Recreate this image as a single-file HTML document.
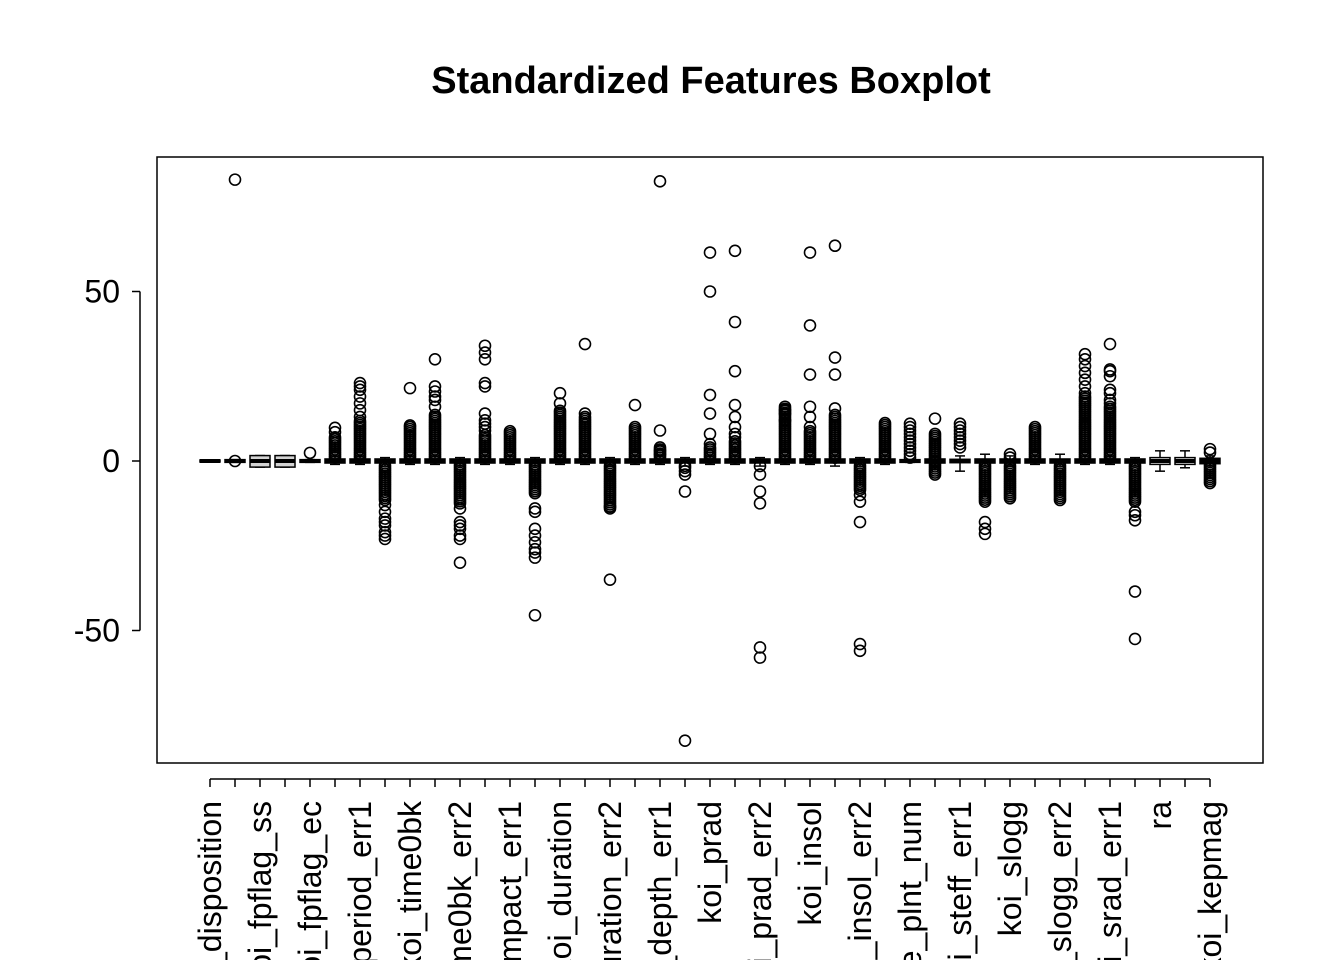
<!DOCTYPE html>
<html><head><meta charset="utf-8"><style>
html,body{margin:0;padding:0;background:#fff;overflow:hidden;width:1344px;height:960px;}
svg{display:block;font-family:"Liberation Sans",Arial,sans-serif;overflow:hidden;}
</style></head><body>
<svg id="chart" width="1344" height="960" viewBox="0 0 1344 960">
<rect width="1344" height="960" fill="#fff"/>
<text x="711" y="93" text-anchor="middle" font-size="38" font-weight="bold">Standardized Features Boxplot</text>
<rect x="157" y="157" width="1106" height="606" fill="none" stroke="#000" stroke-width="1.5"/>
<g id="yaxis"></g>
<g id="xaxis"></g>
<g id="boxes"></g>
</svg>
<script>
const categories=["koi_disposition","koi_fpflag_nt","koi_fpflag_ss","koi_fpflag_co","koi_fpflag_ec","koi_period","koi_period_err1","koi_period_err2","koi_time0bk","koi_time0bk_err1","koi_time0bk_err2","koi_impact","koi_impact_err1","koi_impact_err2","koi_duration","koi_duration_err1","koi_duration_err2","koi_depth","koi_depth_err1","koi_depth_err2","koi_prad","koi_prad_err1","koi_prad_err2","koi_teq","koi_insol","koi_insol_err1","koi_insol_err2","koi_model_snr","koi_tce_plnt_num","koi_steff","koi_steff_err1","koi_steff_err2","koi_slogg","koi_slogg_err1","koi_slogg_err2","koi_srad","koi_srad_err1","koi_srad_err2","ra","dec","koi_kepmag"];
const q1=[-0.3,-0.4,-1.8,-1.8,-0.4,-0.6,-0.6,-0.6,-0.6,-0.6,-0.6,-0.6,-0.6,-0.6,-0.6,-0.6,-0.6,-0.6,-0.6,-0.6,-0.6,-0.6,-0.6,-0.6,-0.6,-0.6,-0.6,-0.6,-0.4,-0.6,-0.5,-0.6,-0.6,-0.6,-0.6,-0.6,-0.6,-0.6,-1,-1,-0.8];
const medians=[0,0,0,0,0,0,0,0,0,0,0,0,0,0,0,0,0,0,0,0,0,0,0,0,0,0,0,0,0,0,0,0,0,0,0,0,0,0,0,0,0];
const q3=[0.3,0.4,1.6,1.6,0.4,0.6,0.6,0.6,0.6,0.6,0.6,0.6,0.6,0.6,0.6,0.6,0.6,0.6,0.6,0.6,0.6,0.6,0.6,0.6,0.6,0.6,0.6,0.6,0.4,0.6,0.5,0.6,0.6,0.6,0.6,0.6,0.6,0.6,1,1,0.8];
const whiskLo=[-0.3,-0.4,-1.8,-1.8,-0.4,-1,-1,-1.5,-1,-1,-1.5,-1,-1,-1.5,-1,-1,-1.5,-1,-1,-1.5,-1,-1,-1.5,-1,-1,-1.5,-1.5,-1,-0.4,-1.5,-3,-1.5,-1.5,-1,-1.5,-1,-1,-1.5,-3,-2,-1.5];
const whiskHi=[0.3,0.4,1.6,1.6,0.4,1.5,1.5,1,1.5,1.5,1,1.5,1.5,1,1.5,1.5,1,1.5,1.5,1,1.5,1.5,1,1.5,1.5,1.5,1,1.5,0.4,1.5,1.5,2,1.5,1.5,2,1.5,1.5,1,3,3,1.5];
const denseLo=[null,null,null,null,null,1,1,-11.5,1,1,-12.5,1,1,-9.5,1,1,-14,1,1,-2,1,1,-1.5,1,1,1,-8.5,1,null,-4,null,-12,-11,1,-11.5,1,1,-12,null,null,-6.5];
const denseHi=[null,null,null,null,null,7,12,-1,10,14,-1,8,9,-1,15,13.5,-1,10,4,-1,4,6,-1,16,9,14,-1,11.5,null,8,null,-1,-1,10,-1,19,16,-1,null,null,-1];
const outliers=[[],[0,83],[],[],[2.4],[8.5,9.8],[13,15,17,19,21,22,23],[-13,-15,-17,-18,-19,-21,-22,-23],[10.5,21.5],[16,18,19,20.5,22,30],[-14,-18,-19,-20,-22,-23,-30],[9,10,11,12,14,22,23,30,32,34],[],[-14,-15,-20,-22,-24,-26,-27,-28.5,-45.5],[17,20],[14,34.5],[-13.5,-35],[16.5],[2,3,9,82.5],[-3,-4,-9,-82.5],[5,8,14,19.5,50,61.5],[7,8,10,13,16.5,26.5,41,62],[-4,-9,-12.5,-55,-58],[12,14,15],[10,13,16,25.5,40,61.5],[15.5,25.5,30.5,63.5],[-10,-12,-18,-54,-56],[],[1,2,3,4,5,6,7,8,9,10,11],[12.5],[4,5,6,7,8,9,10,11],[-18,-20,-21.5],[1,2],[],[],[20,22,24,26,28,30,31.5],[17,18,20,21,25,26.5,27,34.5],[-15,-16,-17.5,-38.5,-52.5],[],[],[2.5,3.5]];
const yTicks=[-50,0,50];
const yTickLabels=["-50","0","50"];
const grayFill=[false,false,true,true];

const NS="http://www.w3.org/2000/svg";
const yS=v=>461-v*3.39;
const xS=i=>210+25*i;
function mk(tag,attrs,parent){const e=document.createElementNS(NS,tag);for(const k in attrs)e.setAttribute(k,attrs[k]);parent.appendChild(e);return e;}
const yax=document.getElementById('yaxis'),xax=document.getElementById('xaxis'),bx=document.getElementById('boxes');
let l=mk('line',{x1:140,x2:140,y1:yS(50),y2:yS(-50),stroke:'#000','stroke-width':1.5},yax);


yTicks.forEach((t,k)=>{
 const tk=mk('line',{x1:132,x2:140,y1:yS(t),y2:yS(t),stroke:'#000','stroke-width':1.5},yax);
 
 
 const tx=mk('text',{x:120,y:yS(t)+11,'text-anchor':'end','font-size':32},yax);
 tx.textContent=yTickLabels[k];
 
 
});
l=mk('line',{x1:xS(0),x2:xS(categories.length-1),y1:779,y2:779,stroke:'#000','stroke-width':1.5},xax);


categories.forEach((c,i)=>{
 const tk=mk('line',{x1:xS(i),x2:xS(i),y1:779,y2:787,stroke:'#000','stroke-width':1.5},xax);
 
 
 if(i%2===0){
  const tx=mk('text',{x:0,y:0,'text-anchor':'end','font-size':32,transform:`translate(${xS(i)+11},801) rotate(-90)`},xax);
  tx.textContent=c;
  
  
 }
});
function circ(g,x,v){const c=mk('circle',{cx:x,cy:yS(v),r:5.5,fill:'none',stroke:'#000','stroke-width':1.6},g);
 
 }
categories.forEach((c,i)=>{
 const g=mk('g',{},bx);
 
 
 const x=xS(i);
 mk('line',{x1:x,x2:x,y1:yS(whiskHi[i]),y2:yS(whiskLo[i]),stroke:'#000','stroke-width':1.5},g);
 mk('line',{x1:x-5,x2:x+5,y1:yS(whiskHi[i]),y2:yS(whiskHi[i]),stroke:'#000','stroke-width':1.5},g);
 mk('line',{x1:x-5,x2:x+5,y1:yS(whiskLo[i]),y2:yS(whiskLo[i]),stroke:'#000','stroke-width':1.5},g);
 mk('rect',{x:x-10,y:yS(q3[i]),width:20,height:yS(q1[i])-yS(q3[i]),fill:grayFill[i]?'#d3d3d3':'#fff',stroke:'#000','stroke-width':1.5},g);
 mk('line',{x1:x-10,x2:x+10,y1:yS(medians[i]),y2:yS(medians[i]),stroke:'#000','stroke-width':4},g);
 if(denseLo[i]!==null){for(let v=denseLo[i];v<=denseHi[i]+1e-6;v+=0.6)circ(g,x,v);}
 outliers[i].forEach(v=>circ(g,x,v));
});
</script>
</body></html>
